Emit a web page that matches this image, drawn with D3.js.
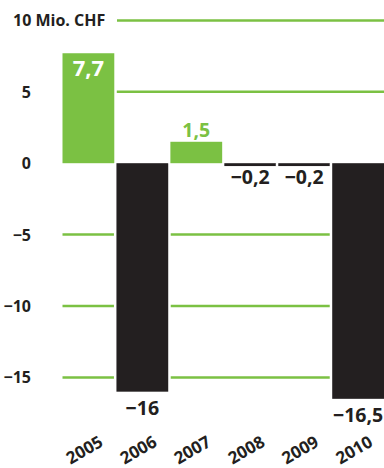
<!DOCTYPE html>
<html>
<head>
<meta charset="utf-8">
<script src="https://cdn.jsdelivr.net/npm/d3@7"></script>
<style>
  body { margin: 0; background: #fff; }
  text { font-family: "Open Sans", sans-serif; font-weight: 700; }
</style>
</head>
<body>
<div id="chart"></div>
<script>
// data
years = ["2005", "2006", "2007", "2008", "2009", "2010"];
values = [7.7, -16, 1.5, -0.2, -0.2, -16.5];
valueLabels = ["7,7", "−16", "1,5", "−0,2", "−0,2", "−16,5"];
tickValues = [10, 5, 0, -5, -10, -15];
tickLabels = ["10 Mio. CHF", "5", "0", "−5", "−10", "−15"];

width = 384;
height = 468;
green = "#7bc143";
dark = "#231f20";

let svg = d3.select("#chart").append("svg")
  .attr("width", width)
  .attr("height", height);

let x = d3.scaleBand()
  .domain(years)
  .range([62.5, 384])
  .paddingInner(0.04);

let y = d3.scaleLinear()
  .domain([10, -15])
  .range([20.4, 377.4]);

// gridlines (skip zero, bars sit on it)
svg.selectAll(".grid")
  .data(tickValues.filter(d => d != 0))
  .enter().append("line")
  .attr("class", "grid")
  .attr("x1", d => d == 10 ? 117 : 62.5)
  .attr("x2", width)
  .attr("y1", d => y(d))
  .attr("y2", d => y(d))
  .attr("stroke", green)
  .attr("stroke-width", 2.5);

// tick labels
svg.selectAll(".tick-label")
  .data(tickValues)
  .enter().append("text")
  .attr("class", "tick-label")
  .attr("x", (d, i) => i == 0 ? 13 : 31)
  .attr("y", d => y(d) + 6)
  .attr("text-anchor", (d, i) => i == 0 ? "start" : "end")
  .attr("font-size", 16)
  .attr("fill", dark)
  .text((d, i) => tickLabels[i]);

let bars = svg.selectAll(".bar")
  .data(values)
  .enter().append("g")
  .attr("class", "bar");

// white knock-out behind each bar so the gridlines stop short of it
bars.append("rect")
  .attr("x", (d, i) => x(years[i]) - 2.5)
  .attr("width", x.bandwidth() + 5)
  .attr("y", d => y(Math.max(0, d)))
  .attr("height", d => Math.abs(y(d) - y(0)))
  .attr("fill", "#fff");

bars.append("rect")
  .attr("x", (d, i) => x(years[i]))
  .attr("width", x.bandwidth())
  .attr("y", d => y(Math.max(0, d)))
  .attr("height", d => Math.abs(y(d) - y(0)))
  .attr("fill", d => d >= 0 ? green : dark);

// value labels
bars.append("text")
  .attr("x", (d, i) => x(years[i]) + x.bandwidth() / 2)
  .attr("y", d => {
    if (d >= 5) return y(d) + 23;
    if (d >= 0) return y(d) - 4.5;
    return y(d) + (d > -1 ? 17.5 : 23.5);
  })
  .attr("text-anchor", "middle")
  .attr("font-size", d => d >= 5 ? 22 : 19.5)
  .attr("fill", d => d >= 5 ? "#fff" : (d >= 0 ? green : dark))
  .text((d, i) => valueLabels[i]);

// year labels, rotated
svg.selectAll(".year")
  .data(years)
  .enter().append("text")
  .attr("class", "year")
  .attr("text-anchor", "middle")
  .attr("font-size", 17)
  .attr("fill", dark)
  .attr("transform", d => "translate(" + (x(d) + x.bandwidth() / 2 - 1) + ",455) rotate(-30)")
  .text(d => d);
</script>
</body>
</html>
